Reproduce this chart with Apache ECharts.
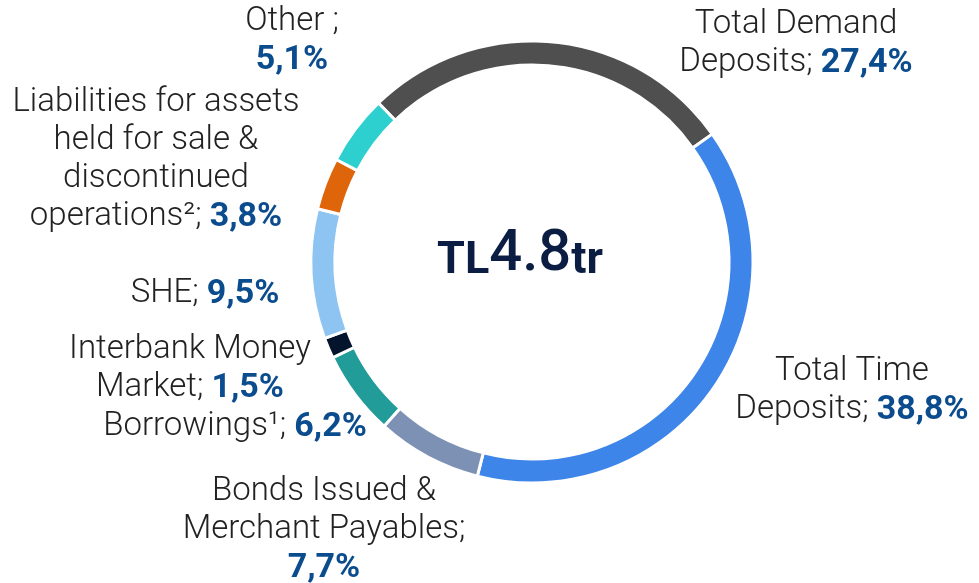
<!DOCTYPE html>
<html>
<head>
<meta charset="utf-8">
<script src="https://cdn.jsdelivr.net/npm/echarts@6/dist/echarts.min.js"></script>
<style>
  html, body { margin: 0; padding: 0; background: #fff; }
  #main { width: 979px; height: 583px; }
</style>
</head>
<body>
<div id="main"></div>
<script>
// funding structure, share of total liabilities (%)
const categories = ['Total Demand Deposits', 'Total Time Deposits', 'Bonds Issued & Merchant Payables', 'Borrowings',
  'Interbank Money Market', 'SHE', 'Liabilities for assets held for sale & discontinued operations', 'Other'];
const values = [27.4, 38.8, 7.7, 6.2, 1.5, 9.5, 3.8, 5.1];
const colors = ['#4f4f4f', '#3d85e8', '#7d91b4', '#229c99', '#04142d', '#8ec4f2', '#df650b', '#2ecfcf'];
// how each label is broken into lines, the value goes after the last one
const labelLines = [
  ['Total Demand', 'Deposits; '],
  ['Total Time', 'Deposits; '],
  ['Bonds Issued &', 'Merchant Payables;', ''],
  ['Borrowings¹; '],
  ['Interbank Money', 'Market; '],
  ['SHE; '],
  ['Liabilities for assets', 'held for sale &', 'discontinued', 'operations²; '],
  ['Other ;', '']
];
const totalText = ['TL', '4.8', 'tr'];

// where the label blocks sit (centre of block)
const labelPos = [[796, 44], [852, 391], [324, 530], [235, 427], [190, 369], [205, 294], [156, 160], [292, 41]];

const fmt = v => v.toFixed(1).replace('.', ',') + '%';

const chart = echarts.init(document.getElementById('main'));

const option = {
  animation: false,
  color: colors,
  graphic: [{
    type: 'text',
    left: 437,
    top: 226,
    style: {
      text: '{a|' + totalText[0] + '}{b|' + totalText[1] + '}{a|' + totalText[2] + '}',
      rich: {
        a: { fontFamily: 'Roboto', fontSize: 45, fontWeight: 'bold', fill: '#0b1d42', verticalAlign: 'bottom' },
        b: { fontFamily: 'Roboto', fontSize: 58, fontWeight: 500, fill: '#0b1d42', verticalAlign: 'bottom' }
      }
    }
  }],
  series: [{
    type: 'pie',
    center: [532, 262],
    radius: [197, 221],
    startAngle: 134,
    clockwise: true,
    itemStyle: { borderColor: '#fff', borderWidth: 3 },
    emphasis: { disabled: true },
    labelLine: { show: false },
    label: {
      show: true,
      position: 'outside',
      align: 'center',
      overflow: 'none',
      width: 400,
      lineHeight: 38,
      formatter: p => {
        const lines = labelLines[p.dataIndex];
        return lines.map((l, i) => {
          if (i < lines.length - 1) return '{n|' + l + '}';
          return (l ? '{n|' + l + '}' : '') + '{p|' + fmt(p.value) + '}';
        }).join('\n');
      },
      rich: {
        n: { fontFamily: 'Roboto', fontSize: 33, fontWeight: 300, color: '#222', lineHeight: 38 },
        p: { fontFamily: 'Roboto', fontSize: 34, fontWeight: 'bold', color: '#0b4c8e', lineHeight: 38 }
      }
    },
    labelLayout: params => ({
      x: labelPos[params.dataIndex][0],
      y: labelPos[params.dataIndex][1],
      align: 'center',
      verticalAlign: 'middle'
    }),
    data: categories.map((c, i) => ({ name: c, value: values[i] }))
  }]
};

chart.setOption(option);
</script>
</body>
</html>
